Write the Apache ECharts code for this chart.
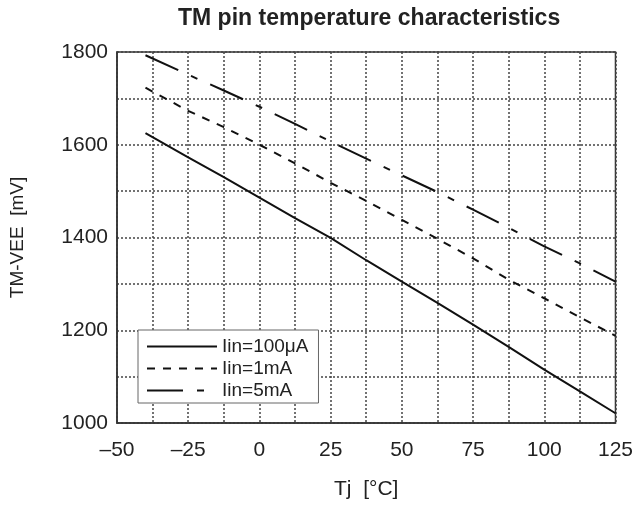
<!DOCTYPE html>
<html>
<head>
<meta charset="utf-8">
<script src="https://cdn.jsdelivr.net/npm/echarts@6/dist/echarts.min.js"></script>
<style>html,body{margin:0;padding:0;background:#fff}#c{width:636px;height:507px}</style>
</head>
<body>
<div id="c"></div>
<script>
var temps = [-40, -25, -12.5, 0, 12.5, 25, 37.5, 50, 62.5, 75, 87.5, 100, 112.5, 125];
var iin100uA = [1625, 1573, 1530, 1486, 1442, 1399, 1351, 1305, 1259, 1212, 1164, 1115, 1068, 1021];
var iin1mA   = [1723, 1673, 1638, 1600, 1560, 1518, 1479, 1438, 1397, 1355, 1309, 1269, 1228, 1188];
var iin5mA   = [1793, 1751, 1717, 1682, 1645, 1607, 1570, 1534, 1498, 1460, 1421, 1381, 1344, 1305];
var seriesNames = ['Iin=100μA', 'Iin=1mA', 'Iin=5mA'];
var titleText = 'TM pin temperature characteristics';
var xName = 'Tj  [°C]';
var yName = 'TM-VEE  [mV]';

function pairs(ys){ return temps.map(function(t,i){ return [t, ys[i]]; }); }
var FONT = "'Liberation Sans', Arial, Helvetica, sans-serif";
var gridDot = { color: '#444', width: 1.5, type: [2, 2] };

var chart = echarts.init(document.getElementById('c'), null, {renderer: 'canvas'});
chart.setOption({
  backgroundColor: '#fff',
  animation: false,
  title: {
    text: titleText, left: 173, top: 2,
    textStyle: { fontFamily: FONT, fontSize: 23, fontWeight: 'bold', color: '#222' }
  },
  grid: { left: 117, right: 19, top: 52, bottom: 84, show: true, borderColor: '#333', borderWidth: 1.5, backgroundColor: 'transparent' },
  legend: {
    orient: 'vertical', left: 138, top: 330,
    itemWidth: 70, itemHeight: 14, itemGap: 3,
    padding: [7, 10, 3, 8],
    backgroundColor: '#fff', borderColor: '#666', borderWidth: 1,
    itemStyle: { opacity: 0 },
    textStyle: { fontFamily: FONT, fontSize: 19, color: '#222' },
    data: seriesNames
  },
  xAxis: {
    type: 'value', min: -50, max: 125, interval: 25,
    name: xName, nameLocation: 'middle', nameGap: 56,
    nameTextStyle: { fontFamily: FONT, fontSize: 21, color: '#222' },
    axisLine: { show: true, onZero: false, lineStyle: { color: '#333', width: 1.5 } },
    axisTick: { show: false },
    minorTick: { show: false, splitNumber: 2 },
    axisLabel: { fontFamily: FONT, fontSize: 21, color: '#222', margin: 17,
      formatter: function(v){ return v < 0 ? '\u2013' + Math.abs(v) : String(v); } },
    splitLine: { show: true, lineStyle: gridDot },
    minorSplitLine: { show: true, lineStyle: gridDot }
  },
  yAxis: {
    type: 'value', min: 1000, max: 1800, interval: 200,
    name: yName, nameLocation: 'middle', nameGap: 90,
    nameTextStyle: { fontFamily: FONT, fontSize: 19, color: '#222' },
    axisLine: { show: true, onZero: false, lineStyle: { color: '#333', width: 1.5 } },
    axisTick: { show: false },
    minorTick: { show: false, splitNumber: 2 },
    axisLabel: { fontFamily: FONT, fontSize: 21, color: '#222', margin: 9,
      formatter: function(v){ return String(v); } },
    splitLine: { show: true, lineStyle: gridDot },
    minorSplitLine: { show: true, lineStyle: gridDot }
  },
  series: [
    { name: seriesNames[0], type: 'line', data: pairs(iin100uA), symbol: 'none',
      lineStyle: { color: '#111', width: 2, type: 'solid' }, itemStyle: { color: '#111' } },
    { name: seriesNames[1], type: 'line', data: pairs(iin1mA), symbol: 'none',
      lineStyle: { color: '#111', width: 2, type: [8, 8] }, itemStyle: { color: '#111' } },
    { name: seriesNames[2], type: 'line', data: pairs(iin5mA), symbol: 'none',
      lineStyle: { color: '#111', width: 2, type: [36, 14, 7, 14] }, itemStyle: { color: '#111' } }
  ]
});
</script>
</body>
</html>
